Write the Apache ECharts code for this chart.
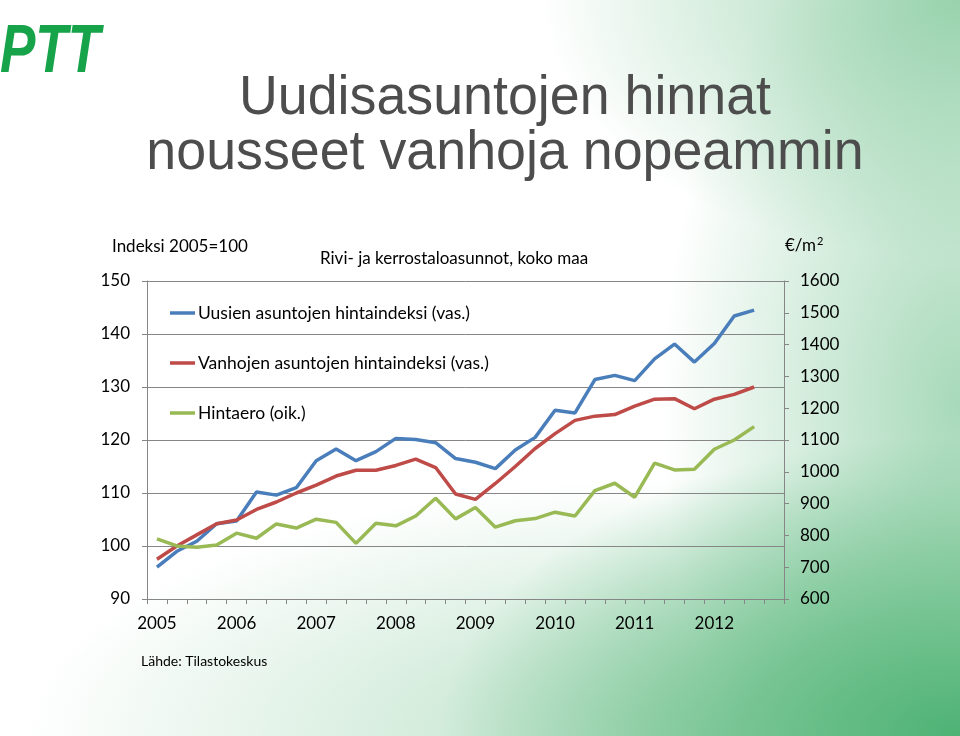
<!DOCTYPE html>
<html>
<head>
<meta charset="utf-8">
<script src="https://cdn.jsdelivr.net/npm/echarts@6/dist/echarts.min.js"></script>
<style>
html,body{margin:0;padding:0;width:960px;height:736px;overflow:hidden;}
body{
  background:
    radial-gradient(ellipse 520px 300px at 100% 100%, rgba(72,176,112,0.95) 0%, rgba(95,186,128,0.75) 40%, rgba(255,255,255,0) 100%),
    radial-gradient(ellipse 300px 520px at 100% 55%, rgba(95,186,128,0.55) 0%, rgba(255,255,255,0) 100%),
    radial-gradient(ellipse 420px 260px at 100% 0%, rgba(110,192,138,0.65) 0%, rgba(255,255,255,0) 100%),
    radial-gradient(ellipse 700px 260px at 75% 100%, rgba(120,196,146,0.55) 0%, rgba(255,255,255,0) 100%),
    #ffffff;
}
#chart{width:960px;height:736px;}
</style>
</head>
<body>
<div id="chart"></div>
<script>
const categories = [
  '2005 Q1','2005 Q2','2005 Q3','2005 Q4',
  '2006 Q1','2006 Q2','2006 Q3','2006 Q4',
  '2007 Q1','2007 Q2','2007 Q3','2007 Q4',
  '2008 Q1','2008 Q2','2008 Q3','2008 Q4',
  '2009 Q1','2009 Q2','2009 Q3','2009 Q4',
  '2010 Q1','2010 Q2','2010 Q3','2010 Q4',
  '2011 Q1','2011 Q2','2011 Q3','2011 Q4',
  '2012 Q1','2012 Q2','2012 Q3','2012 Q4'
];
const uusienIndeksi = [
  96.0, 99.0, 100.9, 104.2,
  104.7, 110.2, 109.6, 111.0,
  116.1, 118.3, 116.1, 117.8,
  120.3, 120.1, 119.5, 116.5,
  115.8, 114.6, 118.1, 120.5,
  125.6, 125.1, 131.4, 132.2,
  131.2, 135.3, 138.1, 134.7,
  138.2, 143.4, 144.5
];
const vanhojenIndeksi = [
  97.5, 100.0, 102.1, 104.2,
  104.9, 106.9, 108.3, 110.0,
  111.5, 113.2, 114.3, 114.3,
  115.2, 116.4, 114.8, 109.8,
  108.8, 111.8, 115.0, 118.4,
  121.2, 123.7, 124.5, 124.8,
  126.4, 127.7, 127.8, 125.9,
  127.7, 128.6, 130.0
];
const hintaero = [
  789, 767, 763, 770,
  807, 791, 836, 823,
  851, 841, 775, 838,
  830, 861, 917, 852,
  888, 826, 846, 853,
  873, 861, 941, 964,
  920, 1027, 1006, 1008,
  1071, 1100, 1142
];
const leftTicks = {min: 90, max: 150, interval: 10};
const rightTicks = {min: 600, max: 1600, interval: 100};

const FONT = 'Lato, "Open Sans", sans-serif';
const chart = echarts.init(document.getElementById('chart'), null, {renderer: 'canvas'});
chart.setOption({
  backgroundColor: 'transparent',
  animation: false,
  textStyle: {fontFamily: FONT},
  grid: {left: 147, right: 176, top: 281, bottom: 137, containLabel: false},
  legend: {
    orient: 'vertical',
    left: 165,
    top: 299,
    icon: 'rect',
    itemWidth: 25,
    itemHeight: 3.5,
    itemGap: 32,
    textStyle: {fontFamily: FONT, fontSize: 17.5, color: '#000', padding: [0, 0, 0, -2]},
    data: ['Uusien asuntojen hintaindeksi (vas.)', 'Vanhojen asuntojen hintaindeksi (vas.)', 'Hintaero (oik.)']
  },
  xAxis: {
    type: 'category',
    data: categories,
    boundaryGap: true,
    axisLine: {lineStyle: {color: '#868686', width: 1}},
    axisTick: {show: true, interval: 0, length: 5, lineStyle: {color: '#868686'}},
    axisLabel: {
      interval: 3, margin: 16, fontSize: 17, color: '#000', fontFamily: FONT,
      formatter: v => v.slice(0, 4)
    },
    splitLine: {show: false}
  },
  yAxis: [
    {
      type: 'value', position: 'left',
      min: leftTicks.min, max: leftTicks.max, interval: leftTicks.interval,
      axisLine: {show: true, lineStyle: {color: '#868686'}},
      axisTick: {show: true, length: 5, lineStyle: {color: '#868686'}},
      axisLabel: {margin: 17, fontSize: 17, color: '#000', fontFamily: FONT},
      splitLine: {show: true, lineStyle: {color: '#868686', width: 1}}
    },
    {
      type: 'value', position: 'right',
      min: rightTicks.min, max: rightTicks.max, interval: rightTicks.interval,
      axisLine: {show: true, lineStyle: {color: '#868686'}},
      axisTick: {show: true, length: 5, lineStyle: {color: '#868686'}},
      axisLabel: {margin: 16, fontSize: 17, color: '#000', fontFamily: FONT, formatter: v => String(v)},
      splitLine: {show: false}
    }
  ],
  series: [
    {
      name: 'Uusien asuntojen hintaindeksi (vas.)', type: 'line', yAxisIndex: 0,
      data: uusienIndeksi, symbol: 'none', smooth: false,
      lineStyle: {color: '#4a7ebb', width: 3.5}, itemStyle: {color: '#4a7ebb'}
    },
    {
      name: 'Vanhojen asuntojen hintaindeksi (vas.)', type: 'line', yAxisIndex: 0,
      data: vanhojenIndeksi, symbol: 'none',
      lineStyle: {color: '#be4b48', width: 3.5}, itemStyle: {color: '#be4b48'}
    },
    {
      name: 'Hintaero (oik.)', type: 'line', yAxisIndex: 1,
      data: hintaero, symbol: 'none',
      lineStyle: {color: '#98b954', width: 3.5}, itemStyle: {color: '#98b954'}
    }
  ],
  graphic: [
    {
      type: 'text', x: 505, y: 99, scaleX: 0.96,
      style: {text: 'Uudisasuntojen hinnat', font: '56px "Liberation Sans", Arial, sans-serif',
        fill: '#4d4d4d', align: 'center', verticalAlign: 'middle'}
    },
    {
      type: 'text', x: 505, y: 154, scaleX: 0.96,
      style: {text: 'nousseet vanhoja nopeammin', font: '56px "Liberation Sans", Arial, sans-serif',
        fill: '#4d4d4d', align: 'center', verticalAlign: 'middle'}
    },
    {
      type: 'text', x: 50, y: 53, scaleX: 0.78,
      style: {text: 'PTT', font: 'italic bold 68px "Liberation Sans", Arial, sans-serif',
        fill: '#17a34a', align: 'center', verticalAlign: 'middle'}
    },
    {
      type: 'text', x: 112, y: 247,
      style: {text: 'Indeksi 2005=100', font: '17px ' + FONT, fill: '#000', align: 'left', verticalAlign: 'middle'}
    },
    {
      type: 'text', x: 320, y: 259,
      style: {text: 'Rivi- ja kerrostaloasunnot, koko maa', font: '17px ' + FONT, fill: '#000', align: 'left', verticalAlign: 'middle'}
    },
    {
      type: 'text', x: 785, y: 246,
      style: {
        text: '€/m{sup|2}', font: '17px ' + FONT, fill: '#000', align: 'left', verticalAlign: 'middle',
        rich: {sup: {fontSize: 11, verticalAlign: 'top', padding: [0, 0, 10, 1], fontFamily: FONT, fill: '#000'}}
      }
    },
    {
      type: 'text', x: 141, y: 661,
      style: {text: 'Lähde: Tilastokeskus', font: '14px ' + FONT, fill: '#000', align: 'left', verticalAlign: 'middle'}
    }
  ]
});
</script>
</body>
</html>
